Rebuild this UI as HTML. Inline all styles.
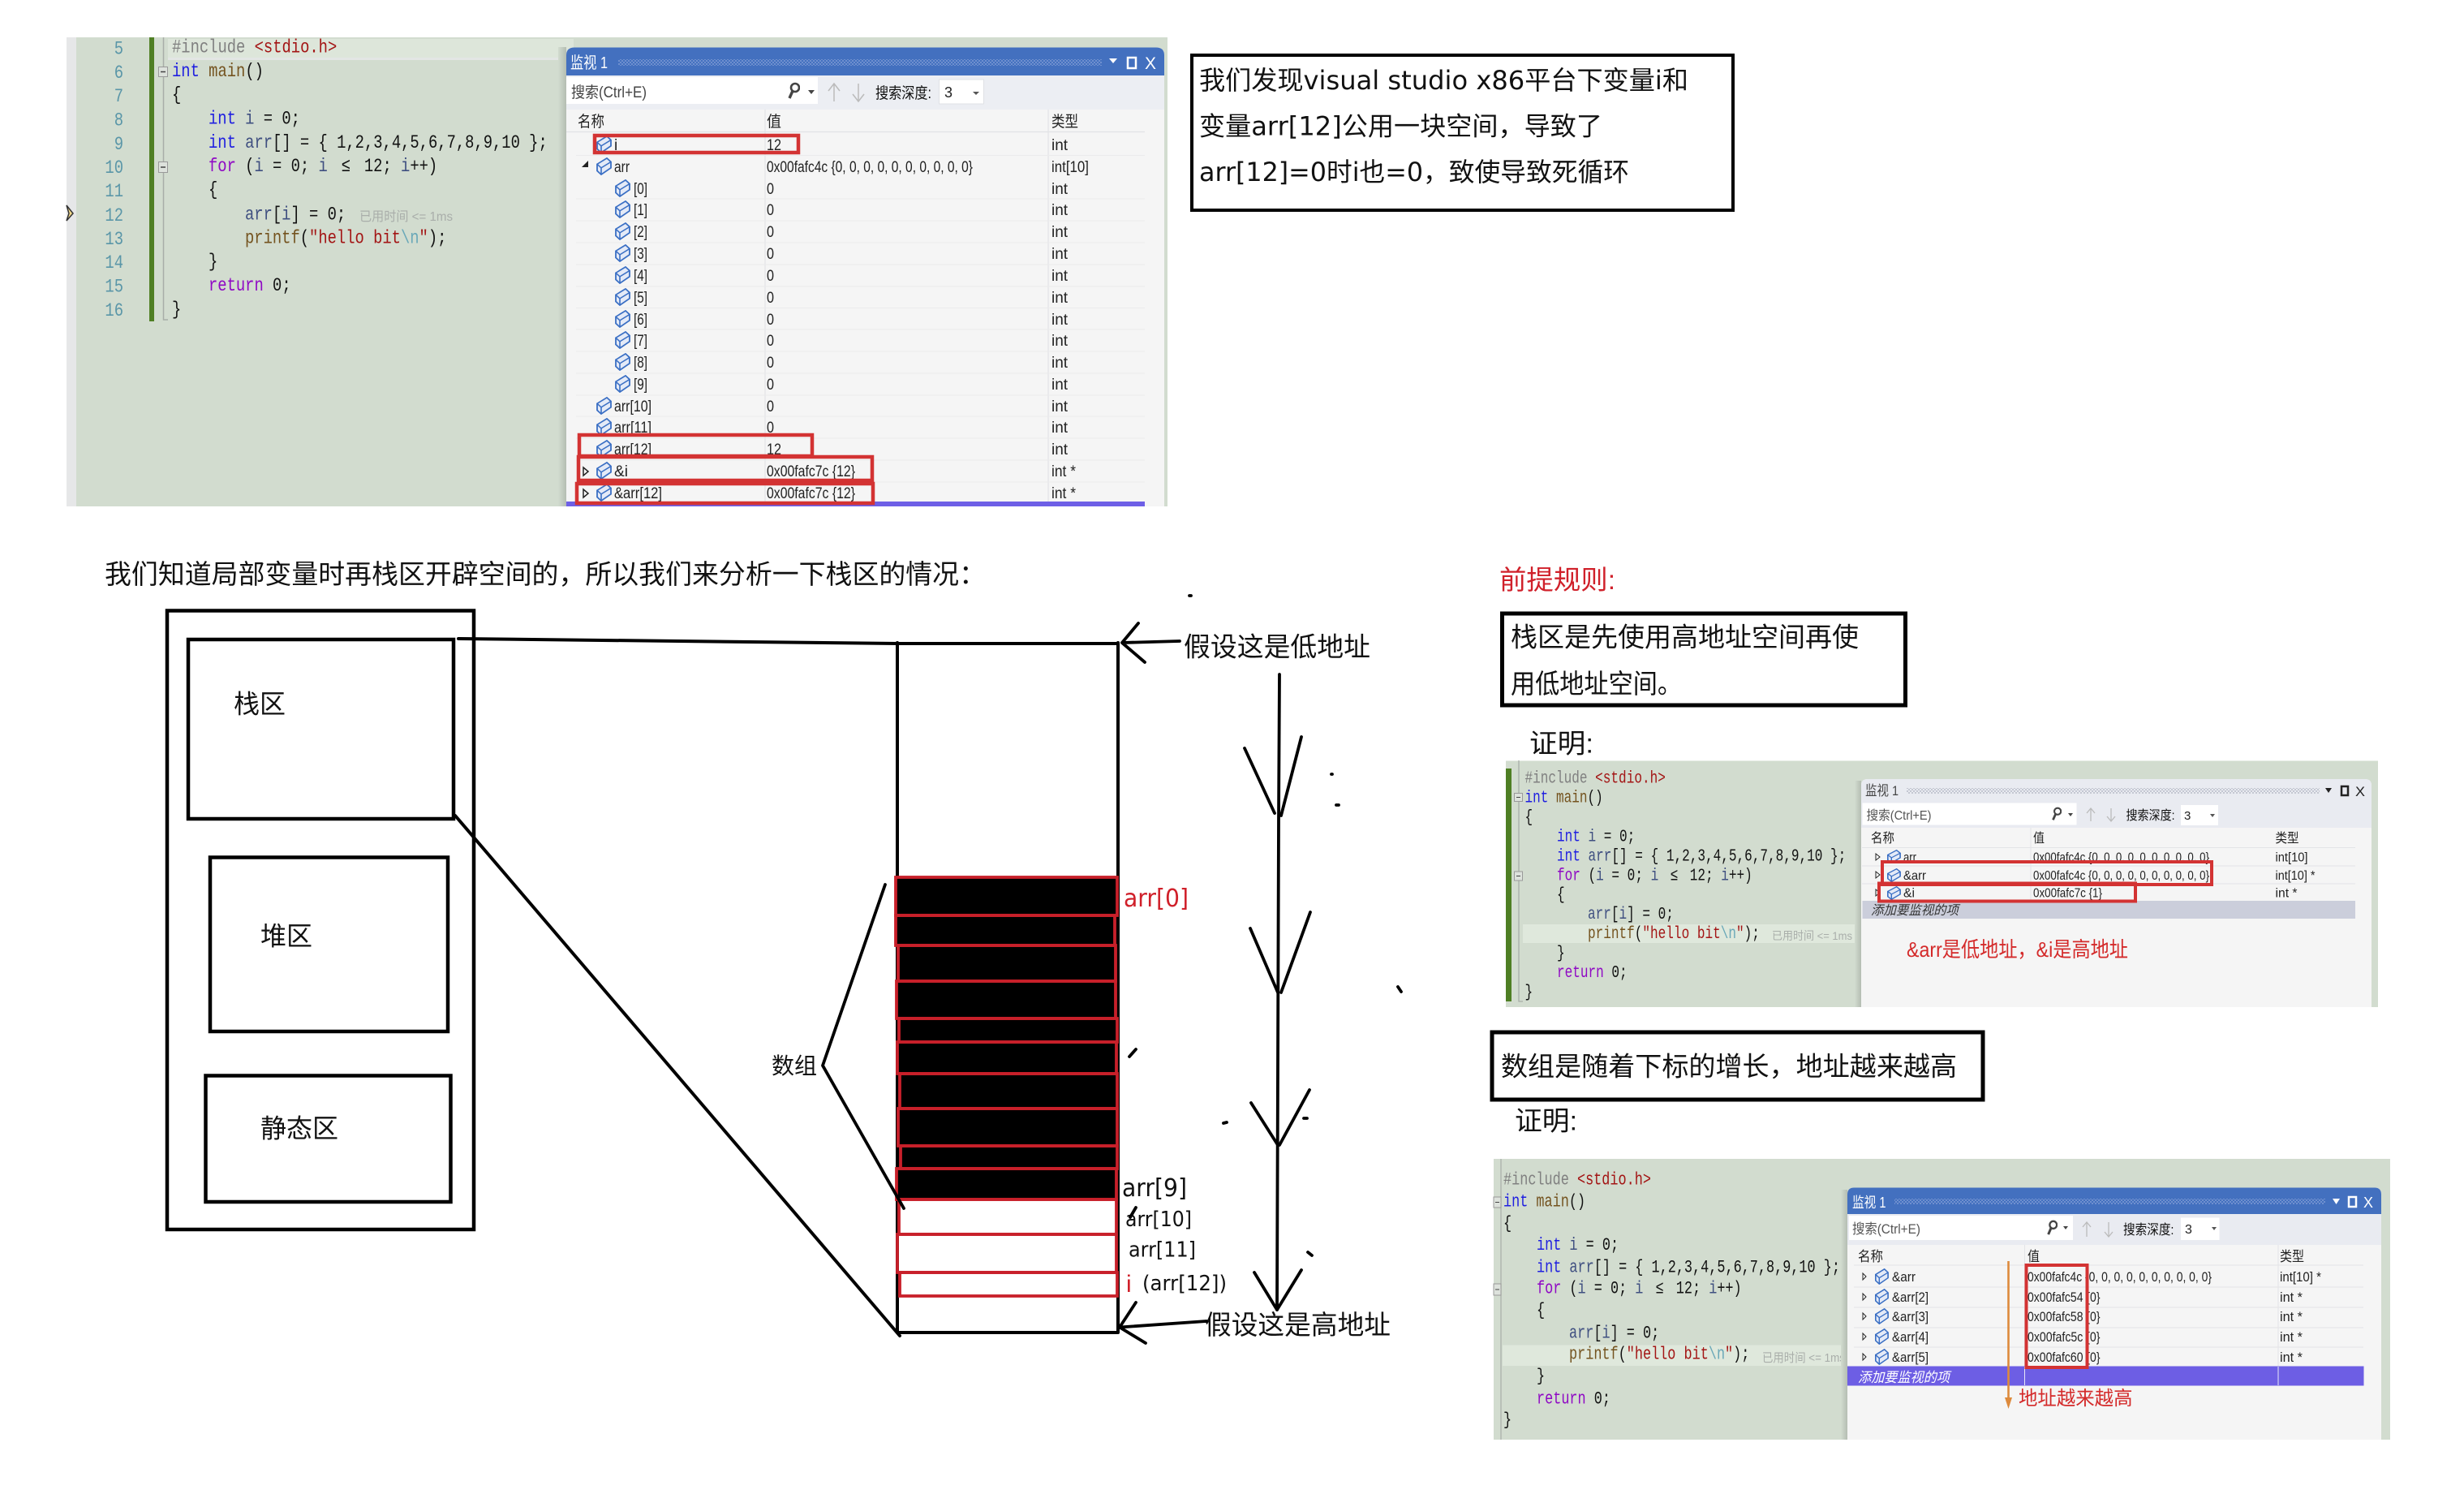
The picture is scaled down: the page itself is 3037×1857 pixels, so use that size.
<!DOCTYPE html>
<html><head><meta charset="utf-8"><style>
html,body{margin:0;padding:0;background:#fff}
svg{display:block}
text{font-family:"Liberation Sans","Noto Sans CJK SC",sans-serif;fill:#111}
text.d{font-family:"DejaVu Sans","Noto Sans CJK SC",sans-serif}
.m text,text.m{font-family:"Liberation Mono","DejaVu Sans Mono",monospace}
.c1 text{font-size:18.83px}.c2 text{font-size:16.05px}.c3 text{font-size:16.85px}
.ln{fill:#5a96a8}
.k{fill:#1f1fe0}.v{fill:#3f4f80}.f{fill:#74531f}.s{fill:#a31515}.g{fill:#808080}.p{fill:#8f08c4}.e{fill:#6aa8b8}
.r1 text{font-size:19px;fill:#222}.r2 text{font-size:16px;fill:#222}.r3 text{font-size:17px;fill:#222}
.big{font-size:33px}
.red{fill:#d0202a}
</style></head><body>
<svg width="3037" height="1857" viewBox="0 0 3037 1857" xmlns="http://www.w3.org/2000/svg">
<defs>
<symbol id="cb" viewBox="0 0 20 24" preserveAspectRatio="none"><path d="M2 9L14 1L19 6V14L7 23L2 18Z" fill="#e4eaf7" stroke="#3a6fc4" stroke-width="1.8"/><path d="M2 9L7 14L19 6M7 14V23" fill="none" stroke="#3a6fc4" stroke-width="1.6"/></symbol>
<pattern id="dl" width="4" height="4" patternUnits="userSpaceOnUse"><rect width="2" height="2" fill="#6f90cf"/><rect x="2" y="2" width="2" height="2" fill="#6f90cf"/></pattern>
<pattern id="dg" width="4" height="4" patternUnits="userSpaceOnUse"><rect width="2" height="2" fill="#c4c7d2"/><rect x="2" y="2" width="2" height="2" fill="#c4c7d2"/></pattern>
<symbol id="mg" viewBox="0 0 16 22" preserveAspectRatio="none"><circle cx="10" cy="7" r="5" fill="none" stroke="#444" stroke-width="2.6"/><path d="M7 11L3 20" stroke="#444" stroke-width="3.4"/></symbol>
<linearGradient id="sh" x1="0" x2="1" y1="0" y2="0"><stop offset="0" stop-color="#d2dccf"/><stop offset="1" stop-color="#b4bdb2"/></linearGradient>
</defs>

<!-- ============ screenshot 1 ============ -->
<rect x="82" y="46" width="1357" height="578" fill="#d2dccf"/>
<rect x="82" y="46" width="12" height="578" fill="#e6e7e8"/>
<rect x="207" y="48" width="500" height="24" fill="#dde6da"/>
<rect x="207" y="71" width="500" height="3" fill="#e3e6e4"/>
<rect x="184" y="46" width="6" height="350" fill="#4f7f24"/>
<path d="M201.5 46V394H207" fill="none" stroke="#a8aea8" stroke-width="1.5"/>
<rect x="195.5" y="82.5" width="11" height="12" fill="#dde2dc" stroke="#999"/><path d="M198 88.5h6" stroke="#444" stroke-width="1.5"/>
<rect x="195.5" y="199.5" width="11" height="13" fill="#dde2dc" stroke="#999"/><path d="M198 206h6" stroke="#444" stroke-width="1.5"/>
<polygon points="82,253 90,263 82,272 85,263" fill="#f2d98a" stroke="#333" stroke-width="1.5"/>
<g class="m c1">
<text class="ln" text-anchor="end" transform="translate(152,66.5) scale(1,1.25)">5</text>
<text class="ln" text-anchor="end" transform="translate(152,96) scale(1,1.25)">6</text>
<text class="ln" text-anchor="end" transform="translate(152,125) scale(1,1.25)">7</text>
<text class="ln" text-anchor="end" transform="translate(152,154.5) scale(1,1.25)">8</text>
<text class="ln" text-anchor="end" transform="translate(152,184) scale(1,1.25)">9</text>
<text class="ln" text-anchor="end" transform="translate(152,213) scale(1,1.25)">10</text>
<text class="ln" text-anchor="end" transform="translate(152,242) scale(1,1.25)">11</text>
<text class="ln" text-anchor="end" transform="translate(152,272) scale(1,1.25)">12</text>
<text class="ln" text-anchor="end" transform="translate(152,301) scale(1,1.25)">13</text>
<text class="ln" text-anchor="end" transform="translate(152,330) scale(1,1.25)">14</text>
<text class="ln" text-anchor="end" transform="translate(152,359.5) scale(1,1.25)">15</text>
<text class="ln" text-anchor="end" transform="translate(152,389) scale(1,1.25)">16</text>
<text transform="translate(212,64.5) scale(1,1.25)"><tspan class="g">#include </tspan><tspan class="s">&lt;stdio.h&gt;</tspan></text>
<text transform="translate(212,94) scale(1,1.25)"><tspan class="k">int </tspan><tspan class="f">main</tspan>()</text>
<text transform="translate(212,123) scale(1,1.25)">{</text>
<text transform="translate(257,152.5) scale(1,1.25)"><tspan class="k">int </tspan><tspan class="v">i</tspan> = 0;</text>
<text transform="translate(257,182) scale(1,1.25)"><tspan class="k">int </tspan><tspan class="v">arr</tspan>[] = { 1,2,3,4,5,6,7,8,9,10 };</text>
<text transform="translate(257,211) scale(1,1.25)"><tspan class="p">for</tspan> (<tspan class="v">i</tspan> = 0; <tspan class="v">i</tspan> <tspan dx="5.6">≤</tspan><tspan dx="5.6"> 12; </tspan><tspan class="v">i</tspan>++)</text>
<text transform="translate(257,240) scale(1,1.25)">{</text>
<text transform="translate(302,270.5) scale(1,1.25)"><tspan class="v">arr</tspan>[<tspan class="v">i</tspan>] = 0;</text>
<text transform="translate(302,299.5) scale(1,1.25)"><tspan class="f">printf</tspan>(<tspan class="s">"hello bit</tspan><tspan class="e">\n</tspan><tspan class="s">"</tspan>);</text>
<text transform="translate(257,328.5) scale(1,1.25)">}</text>
<text transform="translate(257,358) scale(1,1.25)"><tspan class="p">return</tspan> 0;</text>
<text transform="translate(212,387.5) scale(1,1.25)">}</text>
</g>
<text x="443" y="272" font-size="16" textLength="115" lengthAdjust="spacingAndGlyphs" style="fill:#a9aeaa">已用时间 &lt;= 1ms</text>
<!-- panel 1 -->
<rect x="688" y="58" width="10" height="566" fill="url(#sh)"/>
<path d="M698 624V68Q698 58.5 708 58.5H1425Q1435 58.5 1435 68V624Z" fill="#f5f5f5"/>
<path d="M698 93V68Q698 58.5 708 58.5H1425Q1435 58.5 1435 68V93Z" fill="#4370bf"/>
<rect x="698" y="93" width="737" height="42" fill="#eceef3"/>
<text x="703" y="84" font-size="20" textLength="46" lengthAdjust="spacingAndGlyphs" style="fill:#fff">监视 1</text>
<rect x="762" y="73" width="596" height="8" fill="url(#dl)"/>
<polygon points="1367,72 1377,72 1372,78" fill="#fff"/>
<rect x="1390" y="71" width="10" height="13" fill="none" stroke="#fff" stroke-width="2.5"/>
<text x="1411" y="85" font-size="21" textLength="14" lengthAdjust="spacingAndGlyphs" style="fill:#fff">X</text>
<rect x="698" y="95" width="310" height="33" fill="#fff"/>
<text x="704" y="120" font-size="19" textLength="93" lengthAdjust="spacingAndGlyphs" style="fill:#444">搜索(Ctrl+E)</text>
<use href="#mg" x="970" y="101" width="16" height="22"/>
<polygon points="996,111 1004,111 1000,116" fill="#444"/>
<path d="M1028 103V125M1021 112L1028 103L1035 112M1058 103V125M1051 116L1058 125L1065 116" fill="none" stroke="#bbb" stroke-width="1.5"/>
<text x="1079" y="121" font-size="19" textLength="69" lengthAdjust="spacingAndGlyphs">搜索深度:</text>
<rect x="1157.5" y="98" width="55" height="30" fill="#fff" stroke="#dfe1e6"/>
<text x="1164" y="120" font-size="18" style="fill:#222">3</text>
<polygon points="1199,113 1207,113 1203,117" fill="#555"/>
<path d="M698 162.5H1411M943 135V624M1292 135V624" stroke="#e2e3e6" stroke-width="1.2" fill="none"/>
<path d="M710 191.5H1411M710 245H1411M710 272H1411M710 299H1411M710 326H1411M710 353H1411M710 379.5H1411M710 406H1411M710 433H1411M710 460H1411M710 487H1411M710 513H1411M710 540H1411M710 567H1411M710 594H1411" stroke="#ebebec" stroke-width="1" fill="none"/>
<g class="r1">
<text x="712" y="156" textLength="33" lengthAdjust="spacingAndGlyphs">名称</text><text x="945" y="156" textLength="18" lengthAdjust="spacingAndGlyphs">值</text><text x="1296" y="156" textLength="33" lengthAdjust="spacingAndGlyphs">类型</text>
<text x="757" y="185">i</text><text x="945" y="185" textLength="18" lengthAdjust="spacingAndGlyphs">12</text><text x="1296" y="185">int</text>
<text x="757" y="212" textLength="19" lengthAdjust="spacingAndGlyphs">arr</text><text x="945" y="212" textLength="254" lengthAdjust="spacingAndGlyphs">0x00fafc4c {0, 0, 0, 0, 0, 0, 0, 0, 0, 0}</text><text x="1296" y="212" textLength="46" lengthAdjust="spacingAndGlyphs">int[10]</text>
<text x="781" y="239" textLength="17" lengthAdjust="spacingAndGlyphs">[0]</text><text x="945" y="239" textLength="9" lengthAdjust="spacingAndGlyphs">0</text><text x="1296" y="239">int</text>
<text x="781" y="265" textLength="17" lengthAdjust="spacingAndGlyphs">[1]</text><text x="945" y="265" textLength="9" lengthAdjust="spacingAndGlyphs">0</text><text x="1296" y="265">int</text>
<text x="781" y="292" textLength="17" lengthAdjust="spacingAndGlyphs">[2]</text><text x="945" y="292" textLength="9" lengthAdjust="spacingAndGlyphs">0</text><text x="1296" y="292">int</text>
<text x="781" y="319" textLength="17" lengthAdjust="spacingAndGlyphs">[3]</text><text x="945" y="319" textLength="9" lengthAdjust="spacingAndGlyphs">0</text><text x="1296" y="319">int</text>
<text x="781" y="346" textLength="17" lengthAdjust="spacingAndGlyphs">[4]</text><text x="945" y="346" textLength="9" lengthAdjust="spacingAndGlyphs">0</text><text x="1296" y="346">int</text>
<text x="781" y="373" textLength="17" lengthAdjust="spacingAndGlyphs">[5]</text><text x="945" y="373" textLength="9" lengthAdjust="spacingAndGlyphs">0</text><text x="1296" y="373">int</text>
<text x="781" y="400" textLength="17" lengthAdjust="spacingAndGlyphs">[6]</text><text x="945" y="400" textLength="9" lengthAdjust="spacingAndGlyphs">0</text><text x="1296" y="400">int</text>
<text x="781" y="426" textLength="17" lengthAdjust="spacingAndGlyphs">[7]</text><text x="945" y="426" textLength="9" lengthAdjust="spacingAndGlyphs">0</text><text x="1296" y="426">int</text>
<text x="781" y="453" textLength="17" lengthAdjust="spacingAndGlyphs">[8]</text><text x="945" y="453" textLength="9" lengthAdjust="spacingAndGlyphs">0</text><text x="1296" y="453">int</text>
<text x="781" y="480" textLength="17" lengthAdjust="spacingAndGlyphs">[9]</text><text x="945" y="480" textLength="9" lengthAdjust="spacingAndGlyphs">0</text><text x="1296" y="480">int</text>
<text x="757" y="507" textLength="46" lengthAdjust="spacingAndGlyphs">arr[10]</text><text x="945" y="507" textLength="9" lengthAdjust="spacingAndGlyphs">0</text><text x="1296" y="507">int</text>
<text x="757" y="533" textLength="46" lengthAdjust="spacingAndGlyphs">arr[11]</text><text x="945" y="533" textLength="9" lengthAdjust="spacingAndGlyphs">0</text><text x="1296" y="533">int</text>
<text x="757" y="560" textLength="46" lengthAdjust="spacingAndGlyphs">arr[12]</text><text x="945" y="560" textLength="18" lengthAdjust="spacingAndGlyphs">12</text><text x="1296" y="560">int</text>
<text x="757" y="587" textLength="17" lengthAdjust="spacingAndGlyphs">&amp;i</text><text x="945" y="587" textLength="109" lengthAdjust="spacingAndGlyphs">0x00fafc7c {12}</text><text x="1296" y="587" textLength="30" lengthAdjust="spacingAndGlyphs">int *</text>
<text x="757" y="614" textLength="59" lengthAdjust="spacingAndGlyphs">&amp;arr[12]</text><text x="945" y="614" textLength="109" lengthAdjust="spacingAndGlyphs">0x00fafc7c {12}</text><text x="1296" y="614" textLength="30" lengthAdjust="spacingAndGlyphs">int *</text>
</g>
<use href="#cb" x="734" y="167" width="20" height="22"/><use href="#cb" x="734" y="194" width="20" height="22"/>
<use href="#cb" x="757" y="221" width="20" height="22"/><use href="#cb" x="757" y="247" width="20" height="22"/><use href="#cb" x="757" y="274" width="20" height="22"/><use href="#cb" x="757" y="301" width="20" height="22"/><use href="#cb" x="757" y="328" width="20" height="22"/><use href="#cb" x="757" y="355" width="20" height="22"/><use href="#cb" x="757" y="382" width="20" height="22"/><use href="#cb" x="757" y="408" width="20" height="22"/><use href="#cb" x="757" y="435" width="20" height="22"/><use href="#cb" x="757" y="462" width="20" height="22"/>
<use href="#cb" x="734" y="489" width="20" height="22"/><use href="#cb" x="734" y="515" width="20" height="22"/><use href="#cb" x="734" y="542" width="20" height="22"/><use href="#cb" x="734" y="569" width="20" height="22"/><use href="#cb" x="734" y="596" width="20" height="22"/>
<polygon points="717,206 725,206 725,198" fill="#222"/>
<polygon points="719,576 725,581 719,586" fill="#fff" stroke="#222" stroke-width="1.5"/><polygon points="719,603 725,608 719,613" fill="#fff" stroke="#222" stroke-width="1.5"/>
<rect x="698" y="618" width="713" height="6" fill="#6e5fe6"/>
<g fill="none" stroke="#d33333" stroke-width="4.5">
<rect x="733" y="167" width="251" height="21"/>
<rect x="714" y="536" width="287" height="26"/>
<rect x="713" y="563" width="362" height="29"/>
<rect x="711" y="596" width="365" height="24"/>
</g>

<!-- box A -->
<rect x="1469" y="68" width="667" height="191" fill="#fff" stroke="#000" stroke-width="4"/>
<text class="d" font-size="32" x="1478" y="110" textLength="603" lengthAdjust="spacingAndGlyphs">我们发现visual studio x86平台下变量i和</text>
<text class="d" font-size="32" x="1478" y="166.5" textLength="497" lengthAdjust="spacingAndGlyphs">变量arr[12]公用一块空间，导致了</text>
<text class="d" font-size="32" x="1478" y="223" textLength="530" lengthAdjust="spacingAndGlyphs">arr[12]=0时i也=0，致使导致死循环</text>

<!-- heading -->
<text class="big" x="129" y="719" textLength="1086" lengthAdjust="spacingAndGlyphs">我们知道局部变量时再栈区开辟空间的，所以我们来分析一下栈区的情况：</text>

<!-- memory layout -->
<g fill="none" stroke="#000" stroke-width="4.5">
<rect x="206" y="752.5" width="378" height="762.5"/>
<rect x="232" y="788" width="327" height="221"/>
<rect x="259" y="1056.5" width="293" height="214.5"/>
<rect x="253.5" y="1325.5" width="302" height="155.5"/>
</g>
<text x="288" y="878.5" font-size="32">栈区</text>
<text x="321" y="1164.5" font-size="32">堆区</text>
<text x="321" y="1401.5" font-size="32">静态区</text>
<g fill="none" stroke="#000" stroke-width="4" stroke-linecap="round" stroke-linejoin="round">
<path d="M565 787L1107 793H1378"/>
<path d="M561 1005L1109 1646"/>
<path d="M1106 792V1642H1378V792"/>
</g>
<!-- array -->
<rect x="1104" y="1081" width="273" height="397" fill="#000"/>
<g fill="none" stroke="#c8202a" stroke-width="3.8">
<rect x="1104" y="1081" width="273" height="47"/>
<rect x="1104" y="1128" width="270" height="37"/>
<rect x="1107" y="1165" width="268" height="44"/>
<rect x="1105" y="1209" width="270" height="46"/>
<rect x="1108" y="1255" width="269" height="29"/>
<rect x="1106" y="1284" width="270" height="39"/>
<rect x="1109" y="1323" width="268" height="43"/>
<rect x="1107" y="1366" width="270" height="46"/>
<rect x="1110" y="1412" width="267" height="28"/>
<rect x="1105" y="1440" width="271" height="38"/>
<rect x="1108" y="1478" width="268" height="43"/>
<rect x="1106" y="1521" width="270" height="47"/>
<rect x="1109" y="1568" width="268" height="29"/>
</g>
<text x="1385" y="1117" font-size="30" textLength="80" lengthAdjust="spacingAndGlyphs" class="d red">arr[0]</text>
<text x="1383" y="1474" font-size="30" textLength="80" lengthAdjust="spacingAndGlyphs" class="d">arr[9]</text>
<text x="1387" y="1511" font-size="26" textLength="82" lengthAdjust="spacingAndGlyphs" class="d">arr[10]</text>
<text x="1391" y="1548.5" font-size="26" textLength="83" lengthAdjust="spacingAndGlyphs" class="d">arr[11]</text>
<text x="1388" y="1592" font-size="30" class="red">i</text>
<text x="1408" y="1590" font-size="26" textLength="104" lengthAdjust="spacingAndGlyphs" class="d">(arr[12])</text>
<text x="951" y="1323" font-size="28">数组</text>
<text class="big" x="1459" y="808.5" textLength="230" lengthAdjust="spacingAndGlyphs">假设这是低地址</text>
<text class="big" x="1485" y="1644" textLength="229" lengthAdjust="spacingAndGlyphs">假设这是高地址</text>
<g fill="none" stroke="#000" stroke-width="3.8" stroke-linecap="round" stroke-linejoin="round">
<path d="M1091 1090L1014 1313L1114 1489"/>
<path d="M1403 768L1383 792L1411 816M1383 792L1454 790"/>
<path d="M1400 1605L1380 1635.5L1412 1655M1380 1635.5L1487 1628"/>
<path d="M1577 831L1576 1010L1574 1614"/>
<path d="M1534 922L1571 1002M1604 908L1579 1005"/>
<path d="M1541 1144L1575 1223M1615 1124L1579 1223"/>
<path d="M1542 1359L1575 1411M1614 1343L1577 1411"/>
<path d="M1546 1568L1574 1614M1604 1565L1574 1614"/>
<path d="M1393 1500L1400 1488M1392 1302L1400 1293M1723 1216L1727 1222M1612 1543L1617 1547"/>
<path d="M1466 734h2M1641 954h1M1647 992h3M1508 1384l4-1M1607 1378h4"/>
</g>

<!-- right column -->
<text class="big red" x="1848" y="726" textLength="143" lengthAdjust="spacingAndGlyphs">前提规则:</text>
<rect x="1851.5" y="756" width="497" height="113" fill="#fff" stroke="#000" stroke-width="5"/>
<text class="big" x="1862" y="796.5" textLength="429" lengthAdjust="spacingAndGlyphs">栈区是先使用高地址空间再使</text>
<text class="big" x="1862" y="854" textLength="211" lengthAdjust="spacingAndGlyphs">用低地址空间。</text>
<text class="big" x="1885" y="927.5" textLength="79" lengthAdjust="spacingAndGlyphs">证明:</text>

<!-- screenshot 2 -->
<rect x="1856" y="937.5" width="1075" height="303.5" fill="#d2dccf"/>
<rect x="1856" y="947" width="7" height="287" fill="#4f7f24"/>
<path d="M1872 937V1234H1877" fill="none" stroke="#a8aea8" stroke-width="1.3"/>
<rect x="1866.5" y="977.5" width="10" height="10" fill="#dde2dc" stroke="#999"/><path d="M1869 982.5h5" stroke="#444"/><rect x="1866.5" y="1074" width="10" height="11" fill="#dde2dc" stroke="#999"/><path d="M1869 1079.5h5" stroke="#444"/>
<rect x="1877" y="1139" width="417" height="23" fill="#dfe8dc"/>
<g class="m c2">
<text transform="translate(1879.5,964.5) scale(1,1.3)"><tspan class="g">#include </tspan><tspan class="s">&lt;stdio.h&gt;</tspan></text>
<text transform="translate(1879.5,988.5) scale(1,1.3)"><tspan class="k">int </tspan><tspan class="f">main</tspan>()</text>
<text transform="translate(1879.5,1012.5) scale(1,1.3)">{</text>
<text transform="translate(1919,1036.5) scale(1,1.3)"><tspan class="k">int </tspan><tspan class="v">i</tspan> = 0;</text>
<text transform="translate(1919,1060.5) scale(1,1.3)"><tspan class="k">int </tspan><tspan class="v">arr</tspan>[] = { 1,2,3,4,5,6,7,8,9,10 };</text>
<text transform="translate(1919,1084.5) scale(1,1.3)"><tspan class="p">for</tspan> (<tspan class="v">i</tspan> = 0; <tspan class="v">i</tspan> <tspan dx="4.8">≤</tspan><tspan dx="4.8"> 12; </tspan><tspan class="v">i</tspan>++)</text>
<text transform="translate(1919,1108) scale(1,1.3)">{</text>
<text transform="translate(1957,1132) scale(1,1.3)"><tspan class="v">arr</tspan>[<tspan class="v">i</tspan>] = 0;</text>
<text transform="translate(1957,1156) scale(1,1.3)"><tspan class="f">printf</tspan>(<tspan class="s">"hello bit</tspan><tspan class="e">\n</tspan><tspan class="s">"</tspan>);</text>
<text transform="translate(1919,1180) scale(1,1.3)">}</text>
<text transform="translate(1919,1204) scale(1,1.3)"><tspan class="p">return</tspan> 0;</text>
<text transform="translate(1879.5,1228) scale(1,1.3)">}</text>
</g>
<text x="2184" y="1158" font-size="14" textLength="99" lengthAdjust="spacingAndGlyphs" style="fill:#a9aeaa">已用时间 &lt;= 1ms</text>
<rect x="2286" y="962" width="8" height="279" fill="url(#sh)"/>
<path d="M2294 1241V968Q2294 960 2302 960H2915Q2923 960 2923 968V1241Z" fill="#f5f5f5"/>
<path d="M2294 1020V968Q2294 960 2302 960H2915Q2923 960 2923 968V1020Z" fill="#e9ebf1"/>
<text x="2299" y="980" font-size="17" textLength="41" lengthAdjust="spacingAndGlyphs" style="fill:#444">监视 1</text>
<rect x="2350" y="971" width="509" height="7" fill="url(#dg)"/>
<polygon points="2866,971 2874,971 2870,977" fill="#222"/>
<rect x="2886" y="969" width="8" height="11" fill="none" stroke="#222" stroke-width="2.5"/>
<text x="2903" y="981" font-size="17" textLength="12" lengthAdjust="spacingAndGlyphs" style="fill:#222">X</text>
<rect x="2295.5" y="989.5" width="264" height="27" fill="#fff"/>
<text x="2300.5" y="1010" font-size="16" textLength="80" lengthAdjust="spacingAndGlyphs" style="fill:#555">搜索(Ctrl+E)</text>
<use href="#mg" x="2528" y="994" width="13" height="18"/>
<polygon points="2549,1002 2555,1002 2552,1006" fill="#444"/>
<path d="M2577 996V1012M2572 1002L2577 996L2582 1002M2602 996V1012M2597 1006L2602 1012L2607 1006" fill="none" stroke="#bbb" stroke-width="1.3"/>
<text x="2620.5" y="1010" font-size="16" textLength="60" lengthAdjust="spacingAndGlyphs">搜索深度:</text>
<rect x="2688" y="992" width="46" height="25" fill="#fff"/>
<text x="2692" y="1010" font-size="15" style="fill:#222">3</text>
<polygon points="2724,1003 2730,1003 2727,1007" fill="#555"/>
<path d="M2295 1044.5H2903M2295 1067H2903M2295 1089H2903M2503 1020V1132" stroke="#e3e4e7" stroke-width="1" fill="none"/>
<rect x="2295.5" y="1110" width="607.5" height="22" fill="#cbcedb"/>
<g class="r2">
<text x="2306" y="1038" textLength="29" lengthAdjust="spacingAndGlyphs">名称</text><text x="2506" y="1038" textLength="14" lengthAdjust="spacingAndGlyphs">值</text><text x="2804.5" y="1038" textLength="29" lengthAdjust="spacingAndGlyphs">类型</text>
<text x="2346" y="1061.5" textLength="16" lengthAdjust="spacingAndGlyphs">arr</text><text x="2506" y="1061.5" textLength="217" lengthAdjust="spacingAndGlyphs">0x00fafc4c {0, 0, 0, 0, 0, 0, 0, 0, 0, 0}</text><text x="2804.5" y="1061.5" textLength="40" lengthAdjust="spacingAndGlyphs">int[10]</text>
<text x="2346" y="1084" textLength="28" lengthAdjust="spacingAndGlyphs">&amp;arr</text><text x="2506" y="1084" textLength="217" lengthAdjust="spacingAndGlyphs">0x00fafc4c {0, 0, 0, 0, 0, 0, 0, 0, 0, 0}</text><text x="2804.5" y="1084" textLength="49" lengthAdjust="spacingAndGlyphs">int[10] *</text>
<text x="2346" y="1105.5" textLength="14" lengthAdjust="spacingAndGlyphs">&amp;i</text><text x="2506" y="1105.5" textLength="85" lengthAdjust="spacingAndGlyphs">0x00fafc7c {1}</text><text x="2804.5" y="1105.5" textLength="27" lengthAdjust="spacingAndGlyphs">int *</text>
<text x="2306" y="1127" font-style="italic" textLength="108" lengthAdjust="spacingAndGlyphs" style="fill:#333">添加要监视的项</text>
</g>
<use href="#cb" x="2325" y="1047" width="18" height="17"/><use href="#cb" x="2325" y="1070" width="18" height="17"/><use href="#cb" x="2325" y="1092" width="18" height="17"/>
<polygon points="2312,1052 2317,1056 2312,1060" fill="#fff" stroke="#222"/><polygon points="2312,1074 2317,1078 2312,1082" fill="#fff" stroke="#222"/><polygon points="2312,1096 2317,1100 2312,1104" fill="#fff" stroke="#222"/>
<g fill="none" stroke="#d33333" stroke-width="4">
<rect x="2320" y="1062" width="406" height="28"/>
<rect x="2316" y="1088.5" width="316" height="22"/>
</g>
<text x="2350" y="1179" font-size="26" textLength="273" lengthAdjust="spacingAndGlyphs" style="fill:#d42a2a">&amp;arr是低地址，&amp;i是高地址</text>

<!-- box C -->
<rect x="1839" y="1272" width="605" height="83" fill="#fff" stroke="#000" stroke-width="5"/>
<text class="big" x="1850" y="1325.5" textLength="562" lengthAdjust="spacingAndGlyphs">数组是随着下标的增长，地址越来越高</text>
<text class="big" x="1867" y="1392.5" textLength="77" lengthAdjust="spacingAndGlyphs">证明:</text>

<!-- screenshot 3 -->
<rect x="1841" y="1428" width="1105" height="346" fill="#d2dccf"/>
<path d="M1850 1428V1774" stroke="#a8aea8" stroke-width="1.2" fill="none"/>
<rect x="1841" y="1475" width="9" height="13" fill="#dde2dc" stroke="#999"/><path d="M1843 1481.5h5" stroke="#444"/><rect x="1841" y="1582" width="9" height="14" fill="#dde2dc" stroke="#999"/><path d="M1843 1589h5" stroke="#444"/>
<rect x="1852" y="1657.5" width="425" height="25.5" fill="#dfe8dc"/>
<g class="m c3">
<text transform="translate(1853,1459.5) scale(1,1.3)"><tspan class="g">#include </tspan><tspan class="s">&lt;stdio.h&gt;</tspan></text>
<text transform="translate(1853,1486.5) scale(1,1.3)"><tspan class="k">int </tspan><tspan class="f">main</tspan>()</text>
<text transform="translate(1853,1513.5) scale(1,1.3)">{</text>
<text transform="translate(1894,1540) scale(1,1.3)"><tspan class="k">int </tspan><tspan class="v">i</tspan> = 0;</text>
<text transform="translate(1894,1567.5) scale(1,1.3)"><tspan class="k">int </tspan><tspan class="v">arr</tspan>[] = { 1,2,3,4,5,6,7,8,9,10 };</text>
<text transform="translate(1894,1593.5) scale(1,1.3)"><tspan class="p">for</tspan> (<tspan class="v">i</tspan> = 0; <tspan class="v">i</tspan> <tspan dx="5">≤</tspan><tspan dx="5"> 12; </tspan><tspan class="v">i</tspan>++)</text>
<text transform="translate(1894,1620.5) scale(1,1.3)">{</text>
<text transform="translate(1934,1648.5) scale(1,1.3)"><tspan class="v">arr</tspan>[<tspan class="v">i</tspan>] = 0;</text>
<text transform="translate(1934,1674.5) scale(1,1.3)"><tspan class="f">printf</tspan>(<tspan class="s">"hello bit</tspan><tspan class="e">\n</tspan><tspan class="s">"</tspan>);</text>
<text transform="translate(1894,1701.5) scale(1,1.3)">}</text>
<text transform="translate(1894,1729.5) scale(1,1.3)"><tspan class="p">return</tspan> 0;</text>
<text transform="translate(1853,1755.5) scale(1,1.3)">}</text>
</g>
<text x="2172" y="1678" font-size="15" textLength="102" lengthAdjust="spacingAndGlyphs" style="fill:#a9aeaa">已用时间 &lt;= 1ms</text>
<rect x="2269" y="1466" width="8" height="308" fill="url(#sh)"/>
<path d="M2277 1774V1472Q2277 1463.5 2285 1463.5H2927Q2935 1463.5 2935 1472V1774Z" fill="#f5f5f5"/>
<path d="M2277 1496V1472Q2277 1463.5 2285 1463.5H2927Q2935 1463.5 2935 1472V1496Z" fill="#4370bf"/>
<rect x="2277" y="1496" width="658" height="38" fill="#e9ebf1"/>
<text x="2283" y="1488" font-size="18" textLength="41.5" lengthAdjust="spacingAndGlyphs" style="fill:#fff">监视 1</text>
<rect x="2335" y="1477" width="531" height="7" fill="url(#dl)"/>
<polygon points="2875,1477 2884,1477 2879.5,1484" fill="#fff"/>
<rect x="2895" y="1475" width="9" height="12" fill="none" stroke="#fff" stroke-width="2.5"/>
<text x="2913" y="1488" font-size="18" textLength="12" lengthAdjust="spacingAndGlyphs" style="fill:#fff">X</text>
<rect x="2279" y="1498" width="276" height="30" fill="#fff"/>
<text x="2283" y="1520" font-size="17" textLength="84" lengthAdjust="spacingAndGlyphs" style="fill:#555">搜索(Ctrl+E)</text>
<use href="#mg" x="2522" y="1503" width="14" height="20"/>
<polygon points="2543,1511 2549,1511 2546,1515" fill="#444"/>
<path d="M2572 1506V1524M2567 1512L2572 1506L2577 1512M2599 1506V1524M2594 1518L2599 1524L2604 1518" fill="none" stroke="#bbb" stroke-width="1.3"/>
<text x="2617" y="1521" font-size="17" textLength="62.5" lengthAdjust="spacingAndGlyphs">搜索深度:</text>
<rect x="2688" y="1500.5" width="47.5" height="27.5" fill="#fff"/>
<text x="2693" y="1520" font-size="16" style="fill:#222">3</text>
<polygon points="2726,1512 2732,1512 2729,1516" fill="#555"/>
<path d="M2285 1559H2913M2285 1586H2913M2285 1611H2913M2285 1636H2913M2285 1660H2913M2495.5 1534V1684M2808 1534V1684" stroke="#e3e4e7" stroke-width="1" fill="none"/>
<rect x="2277" y="1683.5" width="636.5" height="24" fill="#6d5ee4"/>
<path d="M2495.5 1684V1707M2808 1684V1707" stroke="#e8e8f8" stroke-width="1"/>
<g class="r3">
<text x="2290" y="1554" textLength="31" lengthAdjust="spacingAndGlyphs">名称</text><text x="2499" y="1554" textLength="15" lengthAdjust="spacingAndGlyphs">值</text><text x="2810" y="1554" textLength="30" lengthAdjust="spacingAndGlyphs">类型</text>
<text x="2332" y="1579" textLength="29" lengthAdjust="spacingAndGlyphs">&amp;arr</text><text x="2499" y="1579" textLength="227" lengthAdjust="spacingAndGlyphs">0x00fafc4c {0, 0, 0, 0, 0, 0, 0, 0, 0, 0}</text><text x="2810" y="1579" textLength="51" lengthAdjust="spacingAndGlyphs">int[10] *</text>
<text x="2332" y="1604" textLength="45" lengthAdjust="spacingAndGlyphs">&amp;arr[2]</text><text x="2499" y="1604" textLength="89.5" lengthAdjust="spacingAndGlyphs">0x00fafc54 {0}</text><text x="2810" y="1604" textLength="28" lengthAdjust="spacingAndGlyphs">int *</text>
<text x="2332" y="1628" textLength="45" lengthAdjust="spacingAndGlyphs">&amp;arr[3]</text><text x="2499" y="1628" textLength="89.5" lengthAdjust="spacingAndGlyphs">0x00fafc58 {0}</text><text x="2810" y="1628" textLength="28" lengthAdjust="spacingAndGlyphs">int *</text>
<text x="2332" y="1653" textLength="45" lengthAdjust="spacingAndGlyphs">&amp;arr[4]</text><text x="2499" y="1653" textLength="89.5" lengthAdjust="spacingAndGlyphs">0x00fafc5c {0}</text><text x="2810" y="1653" textLength="28" lengthAdjust="spacingAndGlyphs">int *</text>
<text x="2332" y="1678" textLength="45" lengthAdjust="spacingAndGlyphs">&amp;arr[5]</text><text x="2499" y="1678" textLength="89.5" lengthAdjust="spacingAndGlyphs">0x00fafc60 {0}</text><text x="2810" y="1678" textLength="28" lengthAdjust="spacingAndGlyphs">int *</text>
<text x="2290" y="1703" font-style="italic" textLength="113" lengthAdjust="spacingAndGlyphs" style="fill:#fff">添加要监视的项</text>
</g>
<use href="#cb" x="2310" y="1563" width="18" height="20"/><use href="#cb" x="2310" y="1588" width="18" height="20"/><use href="#cb" x="2310" y="1612" width="18" height="20"/><use href="#cb" x="2310" y="1637" width="18" height="20"/><use href="#cb" x="2310" y="1662" width="18" height="20"/>
<polygon points="2296,1569 2300,1573 2296,1577" fill="#fff" stroke="#222"/><polygon points="2296,1594 2300,1598 2296,1602" fill="#fff" stroke="#222"/><polygon points="2296,1618 2300,1622 2296,1626" fill="#fff" stroke="#222"/><polygon points="2296,1643 2300,1647 2296,1651" fill="#fff" stroke="#222"/><polygon points="2296,1668 2300,1672 2296,1676" fill="#fff" stroke="#222"/>
<rect x="2497.5" y="1559" width="75" height="126" fill="none" stroke="#d33333" stroke-width="4"/>
<path d="M2475.5 1554V1726" stroke="#dd8a3c" stroke-width="2.6" fill="none"/>
<polygon points="2471,1722 2480,1722 2475.5,1736" fill="#dd8a3c"/>
<text x="2488" y="1731" font-size="24" textLength="140.5" lengthAdjust="spacingAndGlyphs" style="fill:#d42a2a">地址越来越高</text>
</svg>
</body></html>
